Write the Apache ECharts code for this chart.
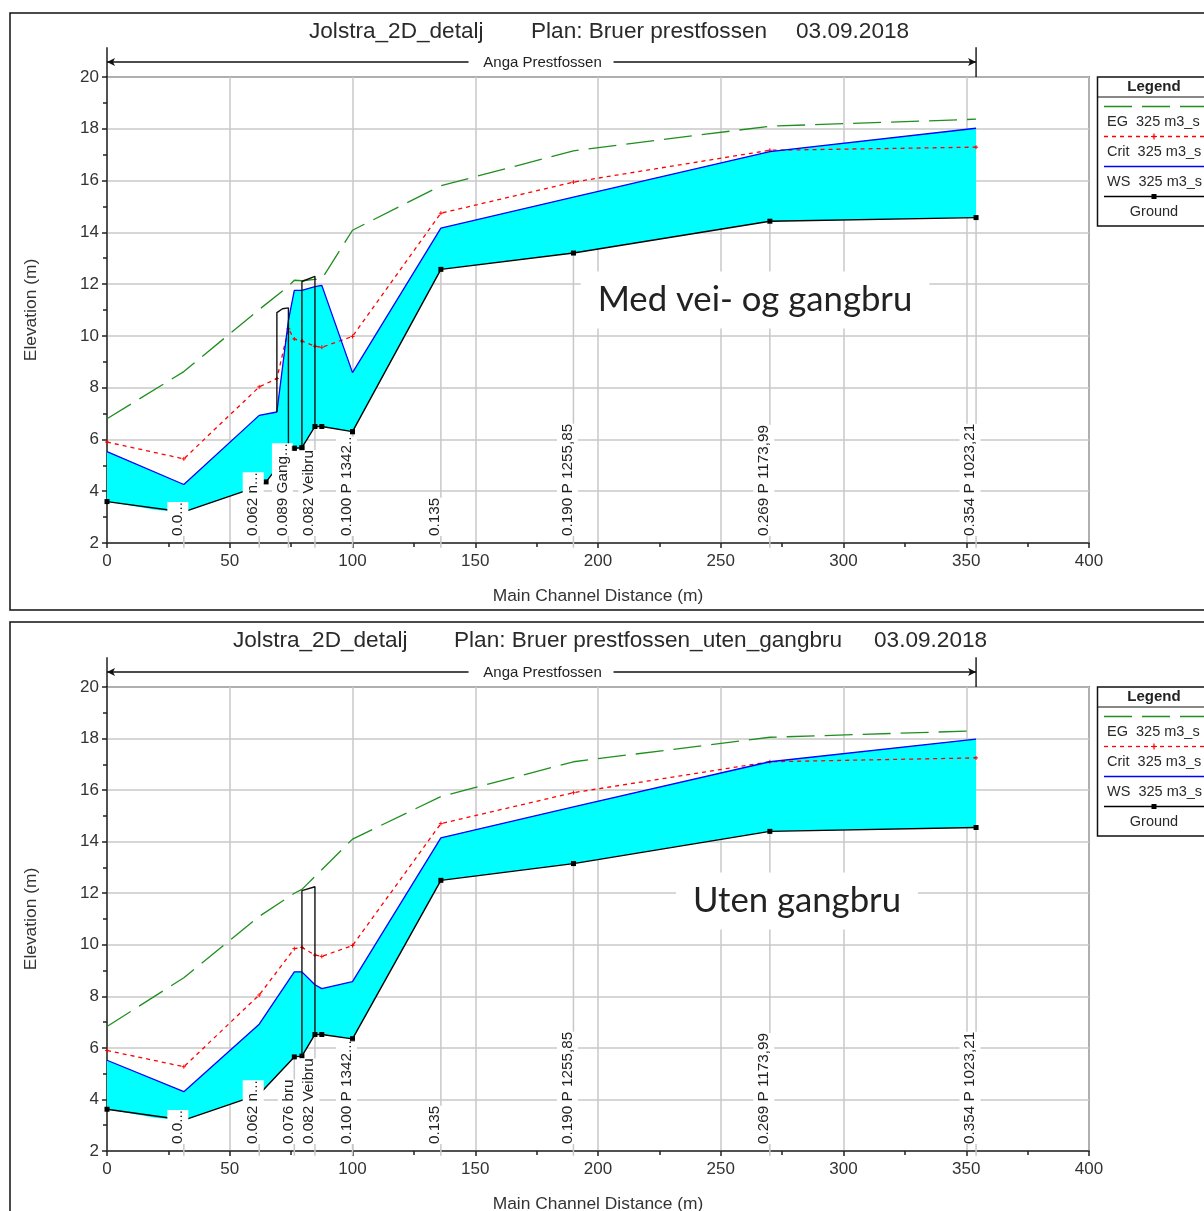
<!DOCTYPE html>
<html><head><meta charset="utf-8">
<style>html,body{margin:0;padding:0;background:#fff}#c{width:1204px;height:1211px}</style>
<script src="https://cdn.jsdelivr.net/npm/echarts@6/dist/echarts.min.js"></script></head>
<body><div id="c"></div>
<script>
// Top panel
const wsA=[[0,5.53],[31.3,4.26],[62,6.93],[69.2,7.06],[73.9,10.6],[76.3,11.76],[79.4,11.76],[84.7,11.9],[87.5,11.95],[100,8.58],[136,14.16],[190,15.36],[270,17.12],[354,18.02]];
const groundA=[[0,3.6],[20,3.27],[31.3,3.2],[62,4.2],[64.8,4.36],[69.2,4.9],[73.9,5.4],[76.3,5.66],[79.4,5.68],[84.7,6.5],[87.5,6.5],[100,6.3],[136,12.57],[190,13.2],[270,14.43],[354,14.57]];
const critA=[[0,5.9],[31.3,5.25],[62,8.03],[69.2,8.35],[73.9,10.27],[76.3,9.88],[79.4,9.8],[84.7,9.6],[87.5,9.56],[100,9.98],[136,14.74],[190,15.94],[270,17.17],[354,17.29]];
const egA=[[0,6.8],[31.3,8.62],[62,11.02],[73.9,11.92],[76.3,12.15],[79.4,12.13],[84.7,12.18],[87.5,12.2],[100,14.08],[136,15.8],[190,17.15],[270,18.1],[354,18.37]];
const bridgeA1=[[69.2,7.06],[69.2,10.9],[71.5,11.05],[73.9,11.08],[73.9,5.4]];
const bridgeA2=[[79.4,5.68],[79.4,12.1],[84.7,12.3],[84.7,6.5]];
const labelsA=[[31.3,"0.0..."],[62,"0.062 n..."],[73.9,"0.089 Gang..."],[84.7,"0.082 Veibru"],[100,"0.100 P 1342.."],[136,"0.135"],[190,"0.190 P 1255,85"],[270,"0.269 P 1173,99"],[354,"0.354 P 1023,21"]];
const marksA=[[76.3,5.66],[79.4,5.68],[100,6.3]];
// Bottom panel
const wsB=[[0,5.52],[31.3,4.3],[62,6.92],[76.3,8.95],[79.4,8.95],[84.7,8.45],[87.5,8.3],[100,8.57],[136,14.15],[190,15.35],[270,17.1],[354,17.98]];
const groundB=[[0,3.62],[20,3.28],[31.3,3.2],[62,4.2],[76.3,5.65],[79.4,5.68],[84.7,6.52],[87.5,6.52],[100,6.35],[136,12.5],[190,13.15],[270,14.4],[354,14.55]];
const critB=[[0,5.9],[31.3,5.27],[62,8.05],[76.3,9.85],[79.4,9.9],[84.7,9.6],[87.5,9.55],[100,9.97],[136,14.7],[190,15.9],[270,17.1],[354,17.25]];
const egB=[[0,6.83],[31.3,8.72],[62,11.1],[76.3,12.0],[79.4,12.15],[100,14.1],[136,15.75],[190,17.1],[270,18.05],[354,18.3]];
const bridgeB=[[79.4,5.68],[79.4,12.1],[84.7,12.25],[84.7,6.52]];
const labelsB=[[31.3,"0.0..."],[62,"0.062 n..."],[76.3,"0.076 bru"],[84.7,"0.082 Veibru"],[100,"0.100 P 1342..."],[136,"0.135"],[190,"0.190 P 1255,85"],[270,"0.269 P 1173,99"],[354,"0.354 P 1023,21"]];
const marksB=[[100,6.35]];
const titlesA=["Jolstra_2D_detalj","Plan: Bruer prestfossen","03.09.2018"];
const titlesB=["Jolstra_2D_detalj","Plan: Bruer prestfossen_uten_gangbru","03.09.2018"];
const reach="Anga Prestfossen", xName="Main Channel Distance (m)", yName="Elevation (m)";
const legendRows=["EG  325 m3_s","Crit  325 m3_s","WS  325 m3_s","Ground"];

const font="'Liberation Sans',Arial,sans-serif";
const chart=echarts.init(document.getElementById('c'),null,{renderer:'canvas'});
const axisCommon={
  nameTextStyle:{fontFamily:font,fontSize:17.4,color:'#333'},
  axisLine:{lineStyle:{color:'#333',width:1.5}},axisTick:{show:true,length:5,lineStyle:{color:'#222',width:1.5}},
  minorTick:{show:true,splitNumber:2,length:4,lineStyle:{color:'#222',width:1.5}},
  splitLine:{show:true,lineStyle:{color:'#c8c8c8',width:1.5}}};
const xAxisOf=(g,name)=>({...axisCommon,type:'value',gridIndex:g,min:0,max:400,interval:50,name,nameLocation:'middle',nameGap:45,
  axisLabel:{fontFamily:font,fontSize:17,color:'#333',margin:10}});
const yAxisOf=(g,name)=>({...axisCommon,type:'value',gridIndex:g,min:2,max:20,interval:2,name,nameLocation:'middle',nameGap:67,nameRotate:90,
  axisLabel:{fontFamily:font,fontSize:17,color:'#333',margin:8}});

function seriesFor(g,ws,ground,crit,eg,bridges,labels,marks){
  const a={xAxisIndex:g,yAxisIndex:g};
  const out=[];
  out.push({...a,type:'custom',name:'Flow',silent:true,z:2,clip:false,data:[0],
    renderItem:(p,api)=>({type:'polygon',shape:{points:ws.concat(ground.slice().reverse()).map(d=>api.coord(d))},style:{fill:'#00ffff'}})});
  out.push({...a,type:'custom',name:'Stations',silent:true,z:1,clip:false,data:labels.map(d=>d[0]),
    renderItem:(p,api)=>{
      const x=labels[p.dataIndex][0],top=ground.find(d=>d[0]===x);
      const s=api.coord([x,1.82]),e=api.coord(top);
      return {type:'line',shape:{x1:s[0],y1:s[1],x2:e[0],y2:e[1]},style:{stroke:'#c8c8c8',lineWidth:1.5}};
    }});
  out.push({...a,type:'line',name:'EG',data:eg,symbol:'none',z:4,lineStyle:{color:'#1f8f1f',width:1.3,type:[28,10]}});
  out.push({...a,type:'line',name:'Crit',data:crit,symbol:'path://M-1 0H1M0 -1V1',symbolSize:4,z:4,itemStyle:{color:'#ff0000',borderColor:'#ff0000',borderWidth:1},lineStyle:{color:'#ff0000',width:1.3,type:[4,4]}});
  out.push({...a,type:'line',name:'WS',data:ws,symbol:'none',z:5,lineStyle:{color:'#0000ff',width:1.3}});
  out.push({...a,type:'line',name:'Ground',data:ground.filter(d=>d[0]!==20),symbol:'rect',symbolSize:5,z:5,itemStyle:{color:'#000'},lineStyle:{color:'#000',width:1.4}});
  bridges.forEach((b,i)=>out.push({...a,type:'line',name:'Bridge'+(i+1),data:b,symbol:'none',z:6,lineStyle:{color:'#111',width:1.4}}));
  out.push({...a,type:'custom',name:'Reach',silent:true,z:7,clip:false,data:[0],
    renderItem:(p,api)=>{
      const l=api.coord([0,20.58]),r=api.coord([354,20.58]),lt=api.coord([0,21.15]),lb=api.coord([0,20]),rt=api.coord([354,21.15]),rb=api.coord([354,20]);
      const mk=(x1,y1,x2,y2)=>({type:'line',shape:{x1,y1,x2,y2},style:{stroke:'#111',lineWidth:1.4}});
      const arrow=(x,d)=>({type:'polygon',shape:{points:[[x,l[1]],[x+d*8,l[1]-4],[x+d*6,l[1]],[x+d*8,l[1]+4]]},style:{fill:'#111'}});
      const cx=(l[0]+r[0])/2;
      return {type:'group',children:[mk(lt[0],lt[1],lb[0],lb[1]),mk(rt[0],rt[1],rb[0],rb[1]),mk(l[0],l[1],cx-73,l[1]),mk(cx+72,l[1],r[0],l[1]),
        arrow(l[0],1),arrow(r[0],-1),
        {type:'text',x:cx+1,y:l[1]+1,style:{text:reach,fontFamily:font,fontSize:15,fill:'#222',textAlign:'center',textVerticalAlign:'middle'}}]};
    }});
  out.push({...a,type:'custom',name:'Labels',silent:true,z:8,clip:false,data:labels.map(d=>d[0]),
    renderItem:(p,api)=>{
      const c=api.coord([labels[p.dataIndex][0],2.27]);
      return {type:'text',x:c[0]-6,y:c[1],rotation:Math.PI/2,style:{text:labels[p.dataIndex][1],fontFamily:font,fontSize:15.3,fill:'#222',textAlign:'left',textVerticalAlign:'middle',backgroundColor:'#fff',padding:[3,0,3,0]}};
    }});
  out.push({...a,type:'scatter',name:'Ground marks',data:marks,symbol:'rect',symbolSize:5,z:9,itemStyle:{color:'#000'}});
  return out;
}

const tx=(x,y,text,size,extra)=>({type:'text',x,y,z:20,style:{text,fontFamily:font,fontSize:size,fill:'#2a2a2a',textAlign:'left',textVerticalAlign:'middle',...extra}});
function panelGraphics(top,h,ly,titles,xs,note,nx,ny){
  const els=[{type:'rect',shape:{x:10,y:top,width:1210,height:h},style:{fill:'none',stroke:'#111',lineWidth:1.5},z:0,silent:true}];
  titles.forEach((t,i)=>els.push(tx(xs[i],top+18.5,t,22.6)));
  els.push({type:'rect',shape:{x:1097.5,y:ly,width:120,height:149},style:{fill:'#fff',stroke:'#111',lineWidth:1.5},z:10});
  els.push({type:'line',shape:{x1:1098,y1:ly+20,x2:1204,y2:ly+20},style:{stroke:'#111',lineWidth:1},z:11});
  els.push(tx(1154,ly+10,'Legend',15,{textAlign:'center',fontWeight:'bold',fill:'#222'}));
  const styles=[{stroke:'#1f8f1f',lineDash:[28,10]},{stroke:'#f00',lineDash:[4,4]},{stroke:'#00f'},{stroke:'#000'}];
  legendRows.forEach((r,i)=>{
    const y=ly+29.5+i*30;
    els.push({type:'line',shape:{x1:1104,y1:y,x2:1204,y2:y},style:{lineWidth:1.3,...styles[i]},z:11});
    if(i===1)els.push({type:'polygon',shape:{points:[[1151,y-.6],[1153.4,y-.6],[1153.4,y-3],[1154.6,y-3],[1154.6,y-.6],[1157,y-.6],[1157,y+.6],[1154.6,y+.6],[1154.6,y+3],[1153.4,y+3],[1153.4,y+.6],[1151,y+.6]]},style:{fill:'#f00'},z:12});
    if(i===3)els.push({type:'rect',shape:{x:1151.5,y:y-2.5,width:5,height:5},style:{fill:'#000'},z:12});
    els.push(tx(i===3?1154:1107,y+15,r,14.5,{textAlign:i===3?'center':'left'}));
  });
  els.push({type:'text',x:nx,y:ny,z:20,style:{text:note,fontFamily:"Lato,'Open Sans',sans-serif",fontSize:34.7,fill:'#222',textAlign:'center',textVerticalAlign:'middle',backgroundColor:'#fff',padding:[11,17]}});
  return els;
}

chart.setOption({
  animation:false,backgroundColor:'#fff',
  grid:[{show:true,outerBoundsMode:'none',containLabel:false,left:107,top:77,width:982,height:466,borderColor:'#333',borderWidth:1.5,backgroundColor:'transparent'},
        {show:true,outerBoundsMode:'none',containLabel:false,left:107,top:687,width:982,height:464,borderColor:'#333',borderWidth:1.5,backgroundColor:'transparent'}],
  xAxis:[xAxisOf(0,xName),xAxisOf(1,xName)],
  yAxis:[yAxisOf(0,yName),yAxisOf(1,yName)],
  series:[...seriesFor(0,wsA,groundA,critA,egA,[bridgeA1,bridgeA2],labelsA,marksA),...seriesFor(1,wsB,groundB,critB,egB,[bridgeB],labelsB,marksB)],
  graphic:{elements:[
    ...panelGraphics(13,597,77,titlesA,[309,531,796],"Med vei- og gangbru",755,300),
    ...panelGraphics(622,620,687,titlesB,[233,454,874],"Uten gangbru",797,901)
  ]}
});
</script></body></html>
